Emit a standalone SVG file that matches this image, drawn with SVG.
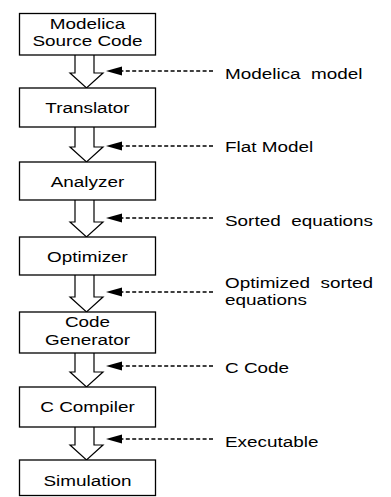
<svg xmlns="http://www.w3.org/2000/svg" width="391" height="497" viewBox="0 0 391 497">
<style>
.box{fill:#fff;stroke:#000;stroke-width:1.3}
.blk{fill:#fff;stroke:#000;stroke-width:1.2;stroke-linejoin:miter}
.lead{stroke:#000;stroke-width:1.4;stroke-dasharray:4 2.4;fill:none}
.t{font-family:"Liberation Sans",Arial,sans-serif;font-size:15px;fill:#000}
.c{text-anchor:middle}
</style>
<defs>
<marker id="ah" viewBox="0 0 16 10" refX="0" refY="5" markerWidth="16" markerHeight="10" markerUnits="userSpaceOnUse" orient="auto-start-reverse">
<path d="M0,5 L16,0.5 L16,9.5 Z" fill="#000"/>
</marker>
</defs>
<g id="connectors">
<path class="blk" d="M75,55 V73 H70 L86.5,88 L103,73 H94 V55"/>
<path class="blk" d="M75,127 V147 H70 L86.5,162 L103,147 H94 V127"/>
<path class="blk" d="M75,200 V222 H70 L86.5,237 L103,222 H94 V200"/>
<path class="blk" d="M75,275 V297 H70 L86.5,312 L103,297 H94 V275"/>
<path class="blk" d="M75,353 V372 H70 L86.5,387 L103,372 H94 V353"/>
<path class="blk" d="M75,427 V445 H70 L86.5,460 L103,445 H94 V427"/>
<line class="lead" x1="213" y1="71" x2="122" y2="71"/>
<path d="M106,71 L122,66.5 L122,75.5 Z"/>
<line class="lead" x1="213" y1="146" x2="122" y2="146"/>
<path d="M106,146 L122,141.5 L122,150.5 Z"/>
<line class="lead" x1="213" y1="218" x2="122" y2="218"/>
<path d="M106,218 L122,213.5 L122,222.5 Z"/>
<line class="lead" x1="213" y1="292" x2="122" y2="292"/>
<path d="M106,292 L122,287.5 L122,296.5 Z"/>
<line class="lead" x1="213" y1="366" x2="122" y2="366"/>
<path d="M106,366 L122,361.5 L122,370.5 Z"/>
<line class="lead" x1="213" y1="439" x2="122" y2="439"/>
<path d="M106,439 L122,434.5 L122,443.5 Z"/>
</g>
<g id="n1"><rect class="box" x="19.5" y="13.5" width="136" height="41.5"/>
<text class="t c" transform="matrix(1.26 0 0 1 87.5 28.5)">Modelica</text>
<text class="t c" transform="matrix(1.26 0 0 1 87.5 45.5)">Source Code</text></g>
<g id="n2"><rect class="box" x="19.5" y="88" width="136" height="39"/>
<text class="t c" transform="matrix(1.26 0 0 1 87.5 112.5)">Translator</text></g>
<g id="n3"><rect class="box" x="19.5" y="162" width="136" height="38"/>
<text class="t c" transform="matrix(1.26 0 0 1 87.5 186.5)">Analyzer</text></g>
<g id="n4"><rect class="box" x="19.5" y="237" width="136" height="38"/>
<text class="t c" transform="matrix(1.26 0 0 1 87.5 261.5)">Optimizer</text></g>
<g id="n5"><rect class="box" x="19.5" y="312" width="136" height="41"/>
<text class="t c" transform="matrix(1.26 0 0 1 87.5 327)">Code</text>
<text class="t c" transform="matrix(1.26 0 0 1 87.5 344.5)">Generator</text></g>
<g id="n6"><rect class="box" x="19.5" y="387" width="136" height="40"/>
<text class="t c" transform="matrix(1.26 0 0 1 87.5 411.5)">C Compiler</text></g>
<g id="n7"><rect class="box" x="19.5" y="460" width="136" height="35.5"/>
<text class="t c" transform="matrix(1.26 0 0 1 87.5 485.5)">Simulation</text></g>
<g id="labels">
<text class="t" xml:space="preserve" transform="matrix(1.26 0 0 1 225 78.5)">Modelica  model</text>
<text class="t" transform="matrix(1.26 0 0 1 225 151.5)">Flat Model</text>
<text class="t" xml:space="preserve" transform="matrix(1.26 0 0 1 225 225.5)">Sorted  equations</text>
<text class="t" xml:space="preserve" transform="matrix(1.26 0 0 1 225 288)">Optimized  sorted</text>
<text class="t" transform="matrix(1.26 0 0 1 225 305)">equations</text>
<text class="t" transform="matrix(1.26 0 0 1 225 373)">C Code</text>
<text class="t" transform="matrix(1.26 0 0 1 225 446.5)">Executable</text>
</g>
</svg>
